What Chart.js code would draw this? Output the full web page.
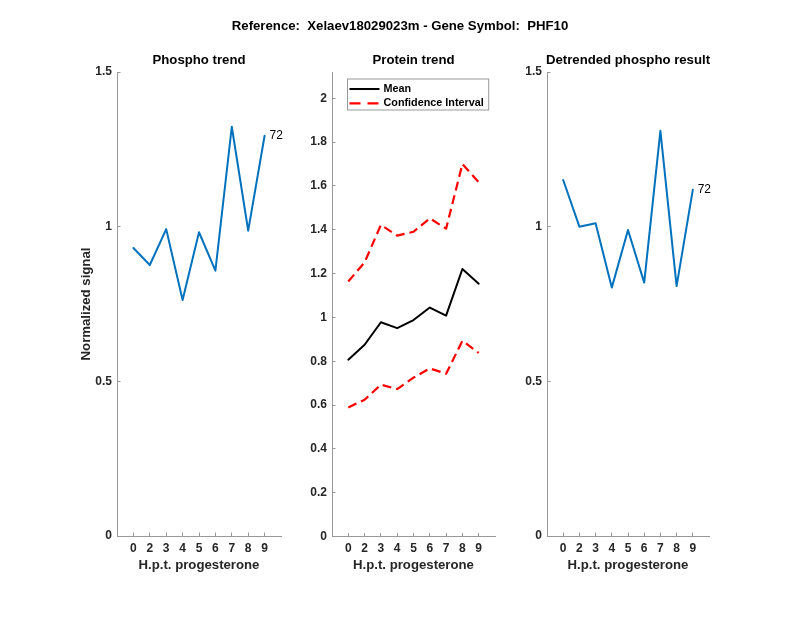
<!DOCTYPE html>
<html>
<head>
<meta charset="utf-8">
<script src="https://cdn.jsdelivr.net/npm/chart.js@4.4.0/dist/chart.umd.min.js"></script>
<style>
    html, body { margin: 0; padding: 0; background: #fff; }
    #fig { position: relative; width: 800px; height: 618px; }
    .panel { position: absolute; left: 0; top: 0; width: 800px; height: 618px; }
</style>
</head>
<body>
<div id="fig">
    <div class="panel"><canvas id="phosphoChart"></canvas></div>
    <div class="panel"><canvas id="proteinChart"></canvas></div>
    <div class="panel"><canvas id="detrendedChart"></canvas></div>
</div>
<script>
// values
const timepoints = ['0', '2', '3', '4', '5', '6', '7', '8', '9'];
const phosphoTrend = [0.931, 0.876, 0.992, 0.763, 0.982, 0.858, 1.323, 0.987, 1.294];
const proteinMean = [0.807, 0.875, 0.978, 0.951, 0.988, 1.045, 1.008, 1.221, 1.154];
const proteinUpper = [1.164, 1.251, 1.422, 1.373, 1.391, 1.452, 1.405, 1.700, 1.617];
const proteinLower = [0.589, 0.624, 0.693, 0.673, 0.725, 0.767, 0.743, 0.893, 0.838];
const detrendedPhospho = [1.151, 1.000, 1.011, 0.803, 0.989, 0.819, 1.310, 0.808, 1.119];
const phosphoTicks = [0, 0.5, 1, 1.5];
const proteinTicks = [0, 0.2, 0.4, 0.6, 0.8, 1, 1.2, 1.4, 1.6, 1.8, 2];
const peptideLabel = '72';
const figureTitle = 'Reference:  Xelaev18029023m - Gene Symbol:  PHF10';

const FONT = "'Liberation Sans', Arial, Helvetica, sans-serif";
const TEXT_COLOR = '#262626';
const AXIS_COLOR = '#999999';
const BLUE = '#0072BD';
const Y_AXIS_W = 40;
const X_AXIS_H = 50;

Chart.defaults.font.family = FONT;

function toPoints(values) {
    return values.map((v, i) => ({ x: i + 1, y: v }));
}

// titles, the peptide note and the boxed legend
const panelText = {
    id: 'panelText',
    afterDraw(chart, args, opts) {
        const ctx = chart.ctx;
        const area = chart.chartArea;
        ctx.save();
        ctx.fillStyle = '#000';
        ctx.textAlign = 'center';
        ctx.textBaseline = 'middle';
        ctx.font = `bold 13.2px ${FONT}`;
        ctx.fillText(opts.title, (area.left + area.right) / 2, area.top - 11.5);
        if (opts.figureTitle) {
            ctx.fillText(opts.figureTitle, chart.width / 2, 26.5);
        }
        if (opts.note) {
            const xs = chart.scales.x, ys = chart.scales.y;
            const data = chart.data.datasets[0].data;
            const last = data[data.length - 1];
            ctx.font = `12px ${FONT}`;
            ctx.textAlign = 'left';
            ctx.fillText(opts.note, xs.getPixelForValue(last.x + 0.3), ys.getPixelForValue(last.y));
        }
        if (opts.legend) {
            const items = opts.legend;
            ctx.font = `bold 10.8px ${FONT}`;
            const textW = Math.max(...items.map(d => ctx.measureText(d.label).width));
            const left = area.left + 15.5;
            const top = area.top + 7;
            const w = 36 + textW + 5;
            const h = 31;
            ctx.fillStyle = '#fff';
            ctx.fillRect(left, top, w, h);
            ctx.strokeStyle = AXIS_COLOR;
            ctx.lineWidth = 1;
            ctx.strokeRect(left, top, w, h);
            items.forEach((ds, i) => {
                const y = top + 10 + i * 14.3;
                ctx.beginPath();
                ctx.setLineDash(ds.borderDash ? [11, 7] : []);
                ctx.strokeStyle = ds.borderColor;
                ctx.lineWidth = ds.borderWidth;
                ctx.moveTo(left + 2, y);
                ctx.lineTo(left + 32, y);
                ctx.stroke();
                ctx.setLineDash([]);
                ctx.fillStyle = '#000';
                ctx.textAlign = 'left';
                ctx.fillText(ds.label, left + 36, y);
            });
        }
        ctx.restore();
    }
};

function makePanel(canvasId, cfg) {
    const ctx = document.getElementById(canvasId).getContext('2d');
    return new Chart(ctx, {
        type: 'line',
        data: { datasets: cfg.datasets },
        options: {
            responsive: true,
            maintainAspectRatio: false,
            animation: false,
            layout: {
                padding: {
                    left: cfg.area.left - Y_AXIS_W,
                    right: 800 - cfg.area.right,
                    top: cfg.area.top,
                    bottom: 618 - cfg.area.bottom - X_AXIS_H
                }
            },
            elements: {
                point: { radius: 0 },
                line: { tension: 0, borderJoinStyle: 'round', borderCapStyle: 'round' }
            },
            plugins: {
                legend: { display: false },
                tooltip: { enabled: false },
                panelText: {
                    title: cfg.title,
                    figureTitle: cfg.figureTitle,
                    note: cfg.note,
                    legend: cfg.legend ? cfg.datasets.slice(0, 2) : null
                }
            },
            scales: {
                x: {
                    type: 'linear',
                    min: 0,
                    max: 10,
                    afterBuildTicks: s => { s.ticks = timepoints.map((_, i) => ({ value: i + 1 })); },
                    afterFit: s => { s.height = X_AXIS_H; },
                    ticks: {
                        autoSkip: false,
                        maxRotation: 0,
                        padding: 8.5,
                        color: TEXT_COLOR,
                        font: { size: 12, weight: 'bold' },
                        callback: v => timepoints[v - 1]
                    },
                    grid: { drawOnChartArea: false, drawTicks: true, tickLength: -3.5, color: AXIS_COLOR },
                    border: { display: true, color: AXIS_COLOR, width: 1 },
                    title: {
                        display: true,
                        text: 'H.p.t. progesterone',
                        color: TEXT_COLOR,
                        font: { size: 13.2, weight: 'bold' },
                        padding: { top: 0, bottom: 13 }
                    }
                },
                y: {
                    type: 'linear',
                    min: 0,
                    max: cfg.yMax,
                    afterBuildTicks: s => { s.ticks = cfg.yTicks.map(v => ({ value: v })); },
                    afterFit: s => { s.width = Y_AXIS_W; },
                    ticks: {
                        padding: 8.5,
                        color: TEXT_COLOR,
                        font: { size: 12, weight: 'bold' },
                        callback: v => String(v)
                    },
                    grid: { drawOnChartArea: false, drawTicks: true, tickLength: -3.5, color: AXIS_COLOR },
                    border: { display: true, color: AXIS_COLOR, width: 1 },
                    title: {
                        display: !!cfg.yLabel,
                        text: cfg.yLabel || '',
                        color: TEXT_COLOR,
                        font: { size: 13.2, weight: 'bold' },
                        padding: { top: 1, bottom: 0 }
                    }
                }
            }
        },
        plugins: [panelText]
    });
}

makePanel('phosphoChart', {
    area: { left: 117, right: 281, top: 72, bottom: 536 },
    yMax: 1.5,
    yTicks: phosphoTicks,
    title: 'Phospho trend',
    figureTitle: figureTitle,
    yLabel: 'Normalized signal',
    note: peptideLabel,
    datasets: [{
        label: 'Phospho',
        data: toPoints(phosphoTrend),
        borderColor: BLUE,
        borderWidth: 2,
        fill: false
    }]
});

makePanel('proteinChart', {
    area: { left: 332, right: 495, top: 72, bottom: 536.5 },
    yMax: 2.12,
    yTicks: proteinTicks,
    title: 'Protein trend',
    legend: true,
    datasets: [{
        label: 'Mean',
        data: toPoints(proteinMean),
        borderColor: '#000000',
        borderWidth: 2,
        fill: false
    }, {
        label: 'Confidence Interval',
        data: toPoints(proteinUpper),
        borderColor: '#FF0000',
        borderWidth: 2.2,
        borderDash: [9, 5],
        borderCapStyle: 'butt',
        fill: false
    }, {
        label: 'Confidence Interval (lower)',
        data: toPoints(proteinLower),
        borderColor: '#FF0000',
        borderWidth: 2.2,
        borderDash: [9, 5],
        borderCapStyle: 'butt',
        fill: false
    }]
});

makePanel('detrendedChart', {
    area: { left: 547, right: 709, top: 72, bottom: 536 },
    yMax: 1.5,
    yTicks: phosphoTicks,
    title: 'Detrended phospho result',
    note: peptideLabel,
    datasets: [{
        label: 'Detrended',
        data: toPoints(detrendedPhospho),
        borderColor: BLUE,
        borderWidth: 2,
        fill: false
    }]
});
</script>
</body>
</html>
